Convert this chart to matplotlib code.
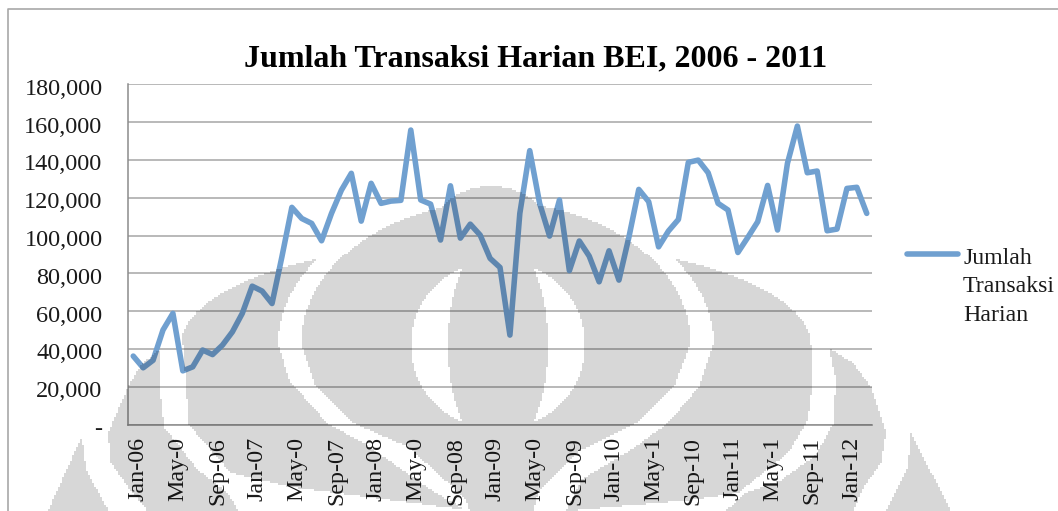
import numpy as np
import matplotlib
matplotlib.use("Agg")
import matplotlib.pyplot as plt
from matplotlib.lines import Line2D
from matplotlib.path import Path
from matplotlib.legend_handler import HandlerLine2D
from matplotlib.transforms import Affine2D, ScaledTranslation

W, H = 1058, 511
title = "Jumlah Transaksi Harian BEI, 2006 - 2011"
series_name = "Jumlah\nTransaksi\nHarian"
values = [36200, 30000, 34000, 50000, 58800, 28400, 30500, 39400, 37000, 42000,
          49000, 58800, 73200, 70600, 64000, 88800, 114900, 109000, 106400, 97200,
          111700, 124000, 132900, 107600, 127600, 117000, 118200, 118600, 155800, 118800,
          116600, 97600, 126300, 98600, 106000, 100200, 87900, 83100, 47300, 111700,
          144900, 117000, 99700, 118800, 81400, 97100, 89100, 75500, 91900, 76400,
          99000, 124400, 117900, 94000, 102400, 108500, 138700, 139900, 133200, 117000,
          113500, 91000, 99000, 107300, 126500, 102900, 138200, 157900, 133200, 134100,
          102500, 103400, 124900, 125500, 111700]
x_labels = ["Jan-06", "May-0", "Sep-06", "Jan-07", "May-0", "Sep-07", "Jan-08", "May-0",
            "Sep-08", "Jan-09", "May-0", "Sep-09", "Jan-10", "May-1", "Sep-10", "Jan-11",
            "May-1", "Sep-11", "Jan-12"]
y_ticks = list(range(0, 180001, 20000))
y_labels = ["-"] + [f"{v:,}" for v in y_ticks[1:]]

plt.rcParams["font.family"] = ["Liberation Serif", "DejaVu Serif"]
fig = plt.figure(figsize=(W / 100, H / 100), dpi=100, facecolor="white")

L, R, T, B = 128.3, 871.7, 84.3, 424.5
ax = fig.add_axes([L / W, 1 - B / H, (R - L) / W, (B - T) / H])
ax.set_xlim(-0.5, len(values) - 0.5)
ax.set_ylim(0, 180000)
for s in ("top", "right"):
    ax.spines[s].set_visible(False)
for s in ("left", "bottom"):
    ax.spines[s].set_color("#8c8c8c")
    ax.spines[s].set_linewidth(1.1)
ax.set_axisbelow(True)
ax.yaxis.grid(True, color="#a6a6a6", linewidth=1.1)
ax.xaxis.grid(False)
line, = ax.plot(range(len(values)), values, color="#70a0d0", linewidth=4.0,
                solid_joinstyle="round", solid_capstyle="round", label=series_name)
ax.set_yticks(y_ticks, y_labels, fontsize=17.5, color="#1a1a1a")
ax.set_xticks(range(0, len(values), 4), x_labels, fontsize=17.3, color="#1a1a1a",
              rotation=90, ha="center", va="top")
ax.tick_params(axis="both", length=0)
ax.tick_params(axis="y", pad=18.5)
ax.tick_params(axis="x", pad=9)
for lab in ax.get_xticklabels():
    lab.set_transform(lab.get_transform() + ScaledTranslation(5 / 100, 0, fig.dpi_scale_trans))
for lab in ax.get_yticklabels():
    lab.set_transform(lab.get_transform() + ScaledTranslation(0, -2.5 / 100, fig.dpi_scale_trans))

fig.text(535.5 / W, 1 - 59 / H, title, fontsize=23, fontweight="bold", color="black",
         ha="center", va="center")


class RaisedLine(HandlerLine2D):
    def create_artists(self, legend, orig_handle, xdescent, ydescent, width, height, fontsize, trans):
        return super().create_artists(legend, orig_handle, xdescent, ydescent, width, height,
                                      fontsize, trans + Affine2D().translate(0, 32))


leg = ax.legend(handles=[line], loc="upper left", frameon=False, fontsize=17.2,
                bbox_to_anchor=(906.5 / W, 1 - 248 / H), bbox_transform=fig.transFigure,
                handlelength=2.17, handletextpad=0.2, labelspacing=0, borderpad=0, borderaxespad=0,
                handler_map={line: RaisedLine()})
for t in leg.get_texts():
    t.set_color("#1a1a1a")
    t.set_linespacing(1.46)

# chart border
fig.add_artist(Line2D([8 / W, 8 / W, 1], [0, 1 - 9 / H, 1 - 9 / H], color="#a8a8a8", linewidth=1.2))

# watermark crest overlaid in multiply-like fashion
yy, xx = np.mgrid[0:H:2, 0:W:2]
cx, cy = 495.0, 345.0


def ell(x0, y0, rx, ry):
    return ((xx - x0) / rx) ** 2 + ((yy - y0) / ry) ** 2 <= 1


def poly(pts):
    p = Path(np.array(pts, float))
    return p.contains_points(np.c_[xx.ravel(), yy.ravel()]).reshape(xx.shape)


def below(pts):
    a = np.array(pts, float)
    return yy < np.interp(xx, a[:, 0], a[:, 1])


upper = yy < cy
lower = ~upper
dome_low = [(300, 343), (315, 387), (352, 423), (407, 447), (463, 497), (473, 520), (530, 520),
            (537, 493), (580, 450), (635, 423), (673, 387), (689, 345)]
gap_low = [(277, 343), (288, 380), (327, 424), (363, 443), (430, 490), (473, 515), (563, 515),
           (580, 480), (630, 450), (667, 423), (698, 387), (712, 345)]
band_low = [(182, 345), (188, 425), (230, 473), (290, 487), (413, 503), (473, 511), (520, 515),
            (690, 500), (737, 493), (787, 453), (807, 420), (812, 380), (810, 345)]
in_dome = (xx > 300) & (xx < 689)
in_gap = (xx > 277) & (xx < 712)
in_band = (xx > 182) & (xx < 812)

dome = (upper & ell(cx, cy, 195, 144)) | ell(490, 255, 70, 70) | (lower & in_dome & below(dome_low))
crescent = ell(497, cy, 87, 85) & ~ell(497, cy, 50, 110)
gap = (upper & ell(cx, cy, 218, 150)) | (lower & in_gap & below(gap_low))
band = (upper & ell(cx, cy, 315, 105)) | (lower & in_band & below(band_low))
left_piece = poly([(158, 350), (158, 380), (163, 427), (197, 470), (227, 493), (240, 515), (150, 515),
                   (127, 487), (110, 463), (107, 433), (128, 385), (140, 365)])
right_piece = poly([(828, 348), (835, 380), (832, 424), (815, 455), (780, 480), (745, 493), (720, 515),
                    (850, 515), (863, 487), (880, 463), (885, 433), (870, 387), (852, 363)])
left_sliver = poly([(81, 436), (45, 515), (110, 515), (85, 470)])
right_sliver = poly([(910, 433), (952, 515), (883, 515), (907, 467)])
mask = (dome & ~crescent) | (band & ~gap) | left_piece | right_piece | left_sliver | right_sliver
mask[:, xx[0] < 9] = False
rgba = np.zeros(mask.shape + (4,))
rgba[..., 3] = mask * 0.16

ov = fig.add_axes([0, 0, 1, 1], zorder=10)
ov.imshow(rgba, extent=(0, W, H, 0), aspect="auto", interpolation="nearest")
ov.axis("off")

fig.savefig("out.png", dpi=100)
